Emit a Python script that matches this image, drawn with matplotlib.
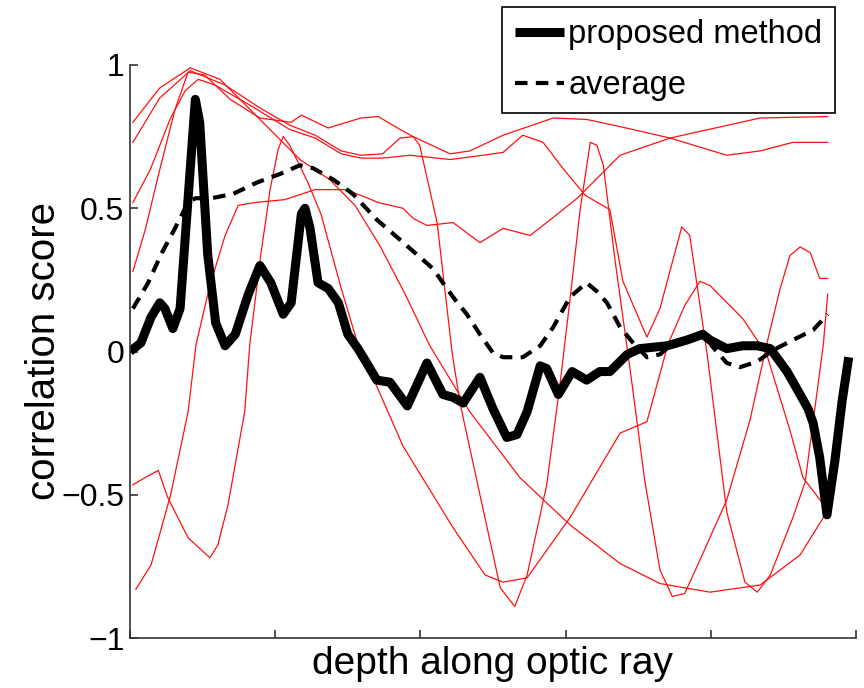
import matplotlib
matplotlib.use("Agg")
import matplotlib.pyplot as plt
from matplotlib.lines import Line2D

plt.rcParams['font.family'] = ['Liberation Sans', 'DejaVu Sans']

# ---------------- data (x: depth along ray, 0..100 ; y: correlation score) ----------------
red_a_x = [0.4, 4.1, 8.3, 12.4, 17.9, 23.4, 27.5, 31.0, 34.4, 37.9, 41.3, 46.8, 53.7, 60.6, 67.5, 73.0, 79.9, 86.8, 92.3, 95.5]
red_a_y = [0.80, 0.92, 0.99, 0.95, 0.81, 0.67, 0.60, 0.51, 0.37, 0.20, 0.02, -0.21, -0.44, -0.605, -0.74, -0.81, -0.84, -0.815, -0.71, -0.58]

red_b_x = [0.4, 4.1, 8.3, 13.1, 17.9, 22.0, 25.5, 29.1, 31.8, 34.8, 37.2, 39.0, 44.1, 46.8, 51.4, 58.3, 62.9, 67.5, 74.4, 82.2, 86.8, 91.3, 96.1]
red_b_y = [0.73, 0.885, 0.98, 0.93, 0.85, 0.79, 0.755, 0.70, 0.685, 0.69, 0.745, 0.75, 0.69, 0.70, 0.755, 0.815, 0.81, 0.785, 0.745, 0.685, 0.70, 0.73, 0.73]

red_c_x = [0.4, 2.8, 5.5, 7.6, 9.4, 11.7, 16.5, 22.0, 25.5, 29.1, 31.8, 34.8, 38.6, 44.1, 48.6, 51.4, 54.1, 56.9, 59.6, 62.7, 66.1, 67.9, 71.2, 73.0, 76.0, 77.1, 79.5, 82.2, 84.7, 86.4, 88.2, 91.3, 93.0, 95.5, 96.1]
red_c_y = [0.52, 0.635, 0.81, 0.91, 0.95, 0.93, 0.86, 0.775, 0.745, 0.69, 0.675, 0.675, 0.685, 0.67, 0.685, 0.695, 0.755, 0.73, 0.64, 0.545, 0.495, 0.245, 0.05, 0.15, 0.435, 0.405, -0.01, -0.56, -0.805, -0.84, -0.78, -0.58, -0.455, 0.025, 0.20]

red_d_x = [0.4, 2.1, 4.1, 6.2, 8.0, 10.3, 13.8, 17.9, 22.2, 23.6, 27.3, 31.8, 34.2, 37.2, 39.0, 39.9, 42.3, 44.4, 45.5, 48.2, 51.0, 53.0, 54.7, 57.4, 59.2, 60.6, 62.0, 63.4, 64.3, 65.2, 66.8, 68.9, 70.9, 73.0, 74.7, 76.4, 78.5, 82.2, 85.4, 87.7, 89.5, 90.9, 92.3, 93.7, 95.0, 96.1]
red_d_y = [0.28, 0.425, 0.635, 0.845, 0.975, 0.965, 0.88, 0.815, 0.80, 0.825, 0.78, 0.815, 0.82, 0.775, 0.75, 0.72, 0.45, -0.01, -0.185, -0.50, -0.825, -0.89, -0.78, -0.465, -0.12, 0.18, 0.495, 0.73, 0.72, 0.65, 0.32, -0.065, -0.45, -0.763, -0.855, -0.845, -0.728, -0.518, -0.239, 0.025, 0.215, 0.335, 0.365, 0.345, 0.255, 0.255]

red_e_x = [0.4, 2.1, 3.9, 5.2, 8.0, 11.0, 12.1, 13.5, 15.8, 16.5, 18.0, 19.3, 20.4, 21.1, 22.0, 24.5, 26.3, 29.1, 31.8, 33.1, 37.6, 44.5, 48.9, 51.4, 54.7, 60.6, 67.5, 71.2, 74.1, 76.4, 78.5, 79.9, 84.4, 87.7, 90.9, 92.7, 96.0]
red_e_y = [-0.465, -0.44, -0.415, -0.51, -0.65, -0.72, -0.675, -0.535, -0.21, 0.025, 0.335, 0.565, 0.705, 0.75, 0.72, 0.59, 0.48, 0.22, -0.01, -0.07, -0.33, -0.615, -0.78, -0.805, -0.79, -0.58, -0.285, -0.245, 0.025, 0.16, 0.245, 0.23, 0.115, -0.01, -0.275, -0.44, -0.55]

red_f_x = [0.8, 2.9, 5.6, 8.0, 9.1, 11.0, 13.1, 14.9, 17.2, 21.3, 25.5, 29.6, 31.8, 34.2, 37.6, 39.0, 40.9, 44.5, 48.2, 51.4, 55.1, 57.4, 61.6, 67.5, 74.4, 86.8, 96.1]
red_f_y = [-0.83, -0.745, -0.50, -0.21, 0.025, 0.23, 0.405, 0.51, 0.52, 0.53, 0.565, 0.565, 0.545, 0.52, 0.50, 0.465, 0.44, 0.45, 0.38, 0.43, 0.405, 0.45, 0.535, 0.685, 0.745, 0.815, 0.82]

proposed_x = [0, 1.5, 2.9, 4.1, 4.8, 5.9, 6.9, 7.7, 9.0, 9.6, 10.7, 11.8, 13.1, 14.5, 16.3, 17.9, 19.4, 21.1, 22.2, 23.6,
              24.1, 24.8, 25.9, 27.3, 28.7, 30.0, 31.4, 32.6, 34.0, 35.8, 38.2, 40.9, 43.1, 44.5, 45.9, 48.2, 50.0, 51.9, 53.3, 54.7,
              56.5, 57.4, 59.0, 60.9, 62.9, 64.7, 66.1, 68.5, 70.2, 74.0, 76.7, 78.9, 79.9, 82.2, 84.4, 86.4, 88.2, 90.5, 92.3, 93.4,
              94.1, 95.0, 96.0, 97.1, 98.1, 99.0]
proposed_y = [0.00, 0.03, 0.12, 0.17, 0.15, 0.08, 0.15, 0.43, 0.88, 0.80, 0.34, 0.10, 0.02, 0.06, 0.20, 0.30, 0.24, 0.13, 0.17, 0.48,
              0.50, 0.43, 0.24, 0.22, 0.17, 0.06, 0.01, -0.04, -0.10, -0.107, -0.19, -0.04, -0.15, -0.16, -0.18, -0.09, -0.20, -0.30, -0.29, -0.21,
              -0.05, -0.06, -0.15, -0.07, -0.10, -0.07, -0.07, -0.01, 0.01, 0.02, 0.04, 0.06, 0.04, 0.01, 0.02, 0.02, 0.01, -0.07, -0.15, -0.20,
              -0.25, -0.37, -0.57, -0.38, -0.17, -0.02]

average_x = [0.4, 2.5, 4.3, 6.2, 8.0, 9.0, 11.2, 14.2, 17.5, 20.7, 23.4, 25.2, 28.0, 30.7, 34.0, 37.2, 41.7, 44.5, 46.4, 48.2,
             50.0, 51.4, 54.1, 56.5, 58.3, 60.6, 62.9, 64.3, 65.7, 67.5, 69.3, 71.2, 73.0, 74.8, 77.5, 78.9, 80.3, 82.2, 84.0, 86.4,
             88.6, 91.3, 94.1, 96.1]
average_y = [0.15, 0.24, 0.34, 0.43, 0.52, 0.535, 0.535, 0.55, 0.59, 0.62, 0.65, 0.64, 0.60, 0.55, 0.46, 0.39, 0.29, 0.19, 0.13, 0.06,
             -0.005, -0.02, -0.02, 0.02, 0.085, 0.19, 0.24, 0.21, 0.17, 0.085, 0.03, -0.02, -0.01, 0.03, 0.05, 0.065, 0.015, -0.04, -0.055, -0.035,
             0.005, 0.04, 0.075, 0.13]

ytick_vals = [-1, -0.5, 0, 0.5, 1]
ytick_labels = ['\u22121', '\u22120.5', '0', '0.5', '1']
xtick_vals = [0, 20, 40, 60, 80, 100]

legend_labels = ['proposed method', 'average']
xlabel = 'depth along optic ray'
ylabel = 'correlation score'

# ---------------- figure ----------------
fig = plt.figure(figsize=(8.64, 6.88), dpi=100)
ax = fig.add_axes([130/864, 1 - 638/688, 726/864, 573/688])

for xs, ys in [(red_a_x, red_a_y), (red_b_x, red_b_y), (red_c_x, red_c_y),
               (red_d_x, red_d_y), (red_e_x, red_e_y), (red_f_x, red_f_y)]:
    ax.plot(xs, ys, color='#ff1010', lw=0.9, solid_joinstyle='round')

ax.plot(proposed_x, proposed_y, color='black', lw=6.5, solid_joinstyle='round', solid_capstyle='butt')
ax.plot(average_x, average_y, color='black', lw=3.0, dashes=(3.0, 2.0), dash_capstyle='butt')

ax.set_xlim(0, 100)
ax.set_ylim(-1, 1)
ax.set_xticks(xtick_vals)
ax.set_xticklabels([''] * len(xtick_vals))
ax.set_yticks(ytick_vals)
ax.set_yticklabels(ytick_labels)

for s in ['top', 'right']:
    ax.spines[s].set_visible(False)
for s in ['left', 'bottom']:
    ax.spines[s].set_color('#333333')
    ax.spines[s].set_linewidth(1.2)

ax.tick_params(axis='both', direction='in', length=6, width=1.2, color='#333333',
               labelsize=23, pad=4)
ax.set_xlabel(xlabel, fontsize=28, labelpad=2)
ax.set_ylabel(ylabel, fontsize=29, labelpad=-1)

handles = [Line2D([], [], color='black', lw=6.5, solid_capstyle='butt'),
           Line2D([], [], color='black', lw=3.0, dashes=(3.0, 2.0), dash_capstyle='butt')]
leg = fig.legend(handles, legend_labels, loc='upper right',
                 bbox_to_anchor=(835/864, 1 - 7/688), bbox_transform=fig.transFigure,
                 fontsize=23.5, frameon=True, fancybox=False, framealpha=1,
                 edgecolor='black', handlelength=1.5, handletextpad=0.15,
                 borderpad=0.38, labelspacing=0.6, borderaxespad=0)
leg.get_frame().set_linewidth(1.2)

fig.savefig('out.png', dpi=100, facecolor='white')
